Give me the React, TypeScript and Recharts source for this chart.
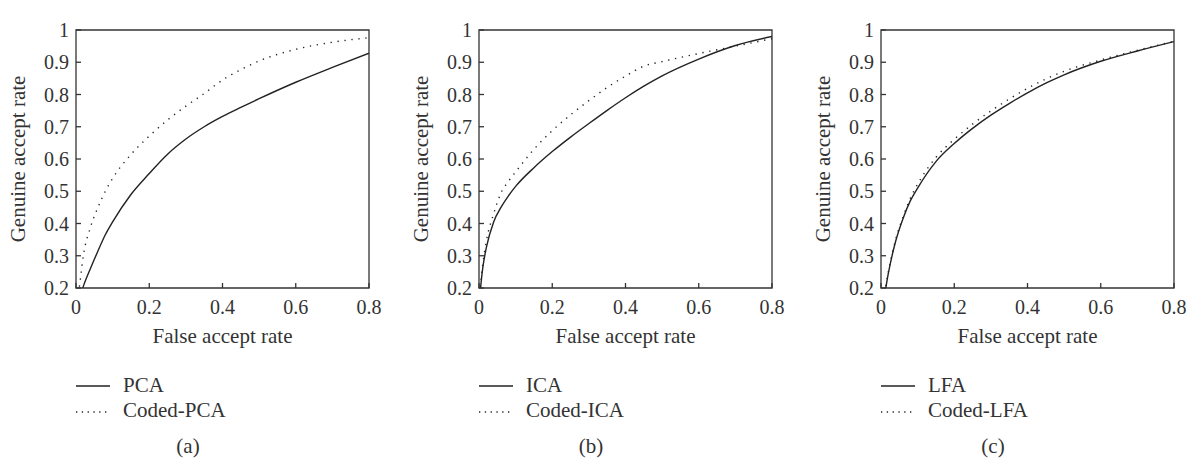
import { LineChart, Line, XAxis, YAxis, ReferenceArea } from "recharts";

// false accept rate grid shared by every curve
const far = [0, 0.01, 0.02, 0.04, 0.06, 0.08, 0.1, 0.15, 0.2, 0.25, 0.3, 0.35, 0.4, 0.45, 0.5, 0.6, 0.7, 0.8];

const pca = [0.12, 0.17, 0.205, 0.262, 0.315, 0.365, 0.405, 0.49, 0.555, 0.615, 0.662, 0.7, 0.732, 0.76, 0.787, 0.838, 0.884, 0.928];
const codedPca = [0.14, 0.21, 0.3, 0.39, 0.45, 0.5, 0.54, 0.614, 0.671, 0.721, 0.764, 0.803, 0.845, 0.877, 0.904, 0.94, 0.962, 0.976];

const ica = [0.15, 0.26, 0.325, 0.405, 0.45, 0.485, 0.515, 0.573, 0.623, 0.668, 0.71, 0.751, 0.79, 0.826, 0.858, 0.91, 0.952, 0.98];
const codedIca = [0.16, 0.27, 0.345, 0.43, 0.495, 0.53, 0.56, 0.63, 0.688, 0.737, 0.781, 0.822, 0.857, 0.888, 0.902, 0.927, 0.95, 0.973];

const lfa = [0.12, 0.18, 0.245, 0.345, 0.415, 0.47, 0.51, 0.592, 0.648, 0.695, 0.736, 0.772, 0.805, 0.835, 0.861, 0.903, 0.935, 0.964];
const codedLfa = [0.12, 0.185, 0.25, 0.35, 0.42, 0.478, 0.522, 0.605, 0.661, 0.708, 0.749, 0.786, 0.819, 0.848, 0.872, 0.907, 0.937, 0.965];

const xTicks = [0, 0.2, 0.4, 0.6, 0.8];
const yTicks = [0.2, 0.3, 0.4, 0.5, 0.6, 0.7, 0.8, 0.9, 1];

const INK = "#333";
const CURVE = "#222";
const FONT = "'Liberation Serif', 'DejaVu Serif', serif";
const DOTS = "1.3 5.7";

const BottomTick = (props: any) => {
  const { x, y, payload } = props;
  return (
    <g>
      <path d={`M${x},${y - 12}V${y - 17}`} stroke={INK} strokeWidth={1.3} />
      <text x={x} y={y} dy="0.71em" textAnchor="middle" fill={INK} fontSize={20}>
        {String(payload.value)}
      </text>
    </g>
  );
};

const LeftTick = (props: any) => {
  const { x, y, payload } = props;
  return (
    <g>
      <path d={`M${x + 7},${y}H${x + 12}`} stroke={INK} strokeWidth={1.3} />
      <text x={x} y={y} dy="0.35em" textAnchor="end" fill={INK} fontSize={20}>
        {String(payload.value)}
      </text>
    </g>
  );
};

const TopTick = (props: any) => {
  const { x, y } = props;
  return <path d={`M${x},${y}V${y + 5}`} stroke={INK} strokeWidth={1.3} />;
};

const RightTick = (props: any) => {
  const { x, y } = props;
  return <path d={`M${x},${y}H${x - 5}`} stroke={INK} strokeWidth={1.3} />;
};

type PanelProps = {
  left: number;
  name: string;
  letter: string;
  base: number[];
  coded: number[];
};

function Panel({ left, name, letter, base, coded }: PanelProps) {
  const rows = far.map((f, i) => ({ far: f, base: base[i], coded: coded[i] }));
  return (
    <div style={{ position: "absolute", left, top: 0, width: 400, height: 463 }}>
      <LineChart
        width={400}
        height={350}
        data={rows}
        margin={{ top: 30, right: 31, bottom: 2, left: 0 }}
      >
        <XAxis
          xAxisId="top"
          orientation="top"
          type="number"
          dataKey="far"
          domain={[0, 0.8]}
          ticks={xTicks}
          interval={0}
          allowDataOverflow
          height={0}
          tickSize={0}
          tickMargin={0}
          tickLine={false}
          axisLine={false}
          tick={<TopTick />}
          label={{ value: name, position: "top", offset: 11, fill: INK, fontSize: 20 }}
        />
        <YAxis
          yAxisId="right"
          orientation="right"
          type="number"
          domain={[0.2, 1]}
          ticks={yTicks}
          interval={0}
          allowDataOverflow
          width={0}
          tickSize={0}
          tickMargin={0}
          tickLine={false}
          axisLine={false}
          tick={<RightTick />}
        />
        <XAxis
          type="number"
          dataKey="far"
          domain={[0, 0.8]}
          ticks={xTicks}
          interval={0}
          allowDataOverflow
          height={60}
          tickSize={0}
          tickMargin={12}
          tickLine={false}
          axisLine={false}
          tick={<BottomTick />}
          label={{ value: "False accept rate", position: "insideBottom", offset: 5, fill: INK, fontSize: 21 }}
        />
        <YAxis
          type="number"
          domain={[0.2, 1]}
          ticks={yTicks}
          interval={0}
          allowDataOverflow
          width={76}
          tickSize={0}
          tickMargin={7}
          tickLine={false}
          axisLine={false}
          tick={<LeftTick />}
          label={{
            value: "Genuine accept rate",
            angle: -90,
            position: "insideLeft",
            offset: 18,
            fill: INK,
            fontSize: 21,
            style: { textAnchor: "middle" },
          }}
        />
        <ReferenceArea
          x1={0}
          x2={0.8}
          y1={0.2}
          y2={1}
          fill="none"
          stroke={INK}
          strokeWidth={1.3}
          ifOverflow="visible"
        />
        <Line
          type="monotone"
          dataKey="coded"
          stroke={CURVE}
          strokeWidth={1.4}
          strokeDasharray={DOTS}
          dot={false}
          isAnimationActive={false}
        />
        <Line
          type="monotone"
          dataKey="base"
          stroke={CURVE}
          strokeWidth={1.4}
          dot={false}
          isAnimationActive={false}
        />
      </LineChart>
      <svg width={400} height={113} style={{ position: "absolute", left: 0, top: 350 }}>
        <line x1={76} x2={110} y1={36} y2={36} stroke={CURVE} strokeWidth={1.4} />
        <text x={123} y={42} fill={INK} fontSize={21}>
          {name}
        </text>
        <line x1={76} x2={110} y1={62} y2={62} stroke={CURVE} strokeWidth={1.4} strokeDasharray="1.3 4.5" />
        <text x={123} y={67} fill={INK} fontSize={21}>
          {`Coded-${name}`}
        </text>
        <text x={188} y={103} textAnchor="middle" fill={INK} fontSize={21}>
          {`(${letter})`}
        </text>
      </svg>
    </div>
  );
}

export default function App() {
  return (
    <div
      style={{
        position: "absolute",
        left: 0,
        top: 0,
        width: 1199,
        height: 463,
        background: "#fff",
        fontFamily: FONT,
      }}
    >
      <Panel left={0} name="PCA" letter="a" base={pca} coded={codedPca} />
      <Panel left={403} name="ICA" letter="b" base={ica} coded={codedIca} />
      <Panel left={805} name="LFA" letter="c" base={lfa} coded={codedLfa} />
    </div>
  );
}
